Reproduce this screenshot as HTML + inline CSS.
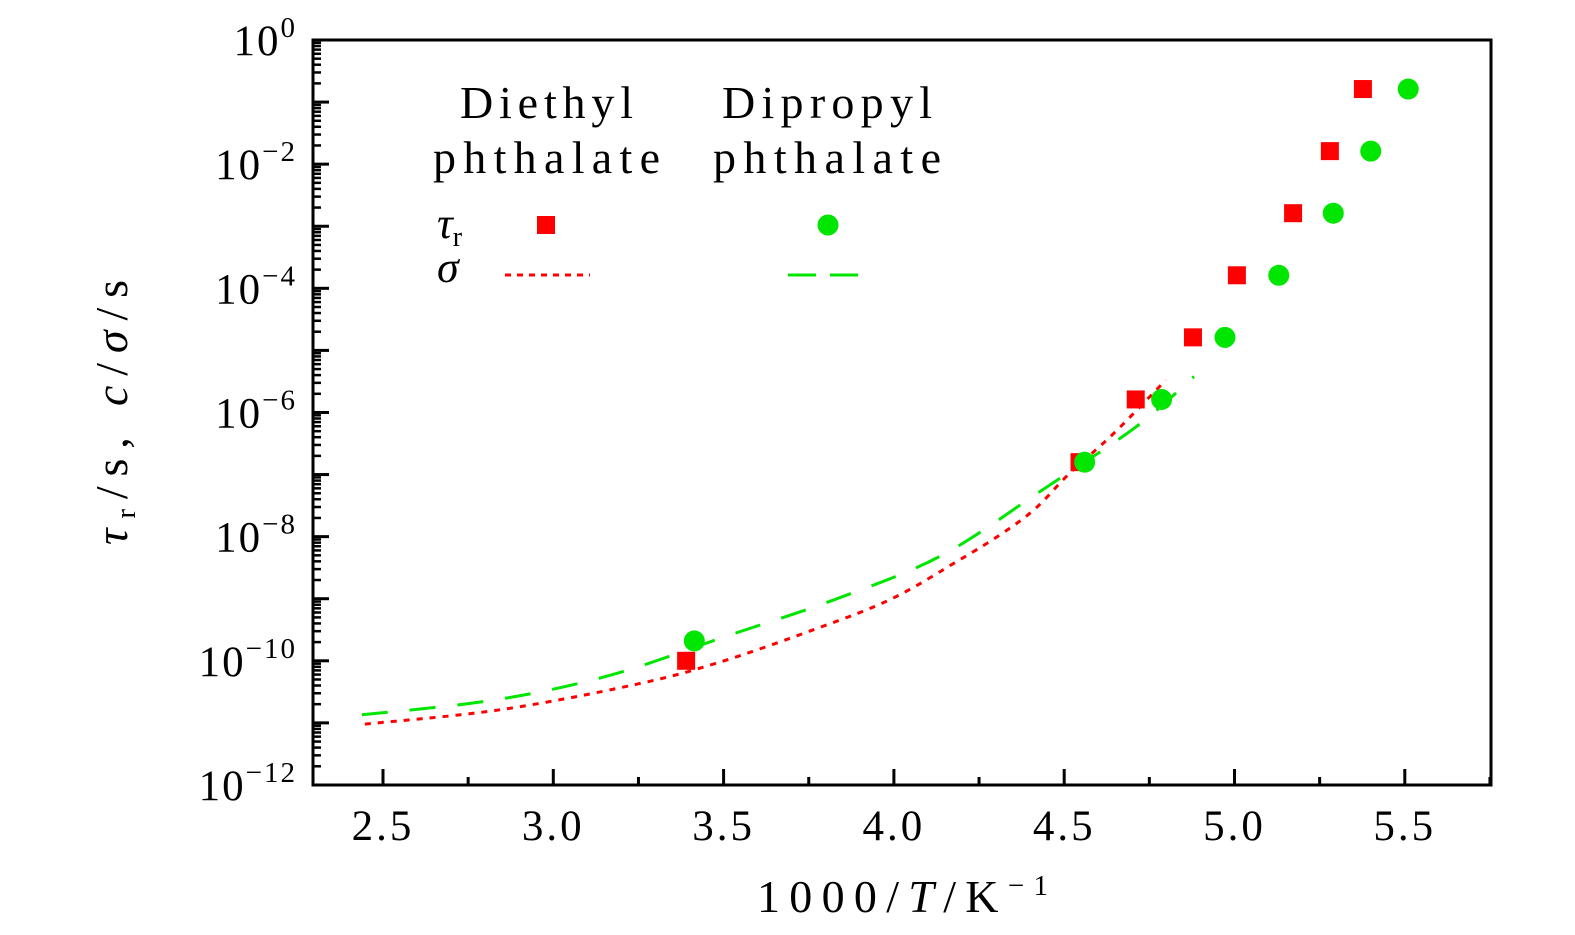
<!DOCTYPE html>
<html><head><meta charset="utf-8"><style>
body{margin:0;background:#fff;}
svg{display:block;font-family:"Liberation Serif","DejaVu Serif",serif;}
</style></head><body>
<svg id="chart" width="1575" height="935" viewBox="0 0 1575 935">
<rect x="313" y="40" width="1178" height="745" fill="none" stroke="#000" stroke-width="3"/>
<g id="axes"></g>
<g id="series"></g>
<g font-size="46" fill="#000">
<text x="460" y="118" textLength="173" lengthAdjust="spacing">Diethyl</text>
<text x="433" y="173" textLength="227" lengthAdjust="spacing">phthalate</text>
<text x="722" y="118" textLength="210" lengthAdjust="spacing">Dipropyl</text>
<text x="713" y="173" textLength="228" lengthAdjust="spacing">phthalate</text>
<text x="437" y="238" font-style="italic" font-size="44">τ<tspan font-style="normal" font-size="28" dy="8">r</tspan></text>
<text x="437" y="282" font-style="italic" font-size="44">σ</text>
<rect x="537" y="216" width="18" height="18" fill="#f00"/>
<circle cx="828" cy="225" r="10.5" fill="#00e600"/>
<line x1="505" y1="275" x2="590" y2="275" stroke="#f00" stroke-width="3" stroke-dasharray="6,6"/>
<line x1="788" y1="275" x2="870" y2="275" stroke="#00e600" stroke-width="3" stroke-dasharray="28,14"/>
</g>
<text x="757" y="912" textLength="291" lengthAdjust="spacing" font-size="46">1000/<tspan font-style="italic">T</tspan>/K<tspan font-size="29" dy="-17">−1</tspan></text>
<text transform="translate(127,545) rotate(-90)" textLength="265" lengthAdjust="spacing" font-size="46"><tspan font-style="italic">τ</tspan><tspan font-size="29" dy="8">r</tspan><tspan dy="-8">/s, </tspan><tspan font-style="italic">c</tspan>/<tspan font-style="italic">σ</tspan>/s</text>
</svg>
<script>
const xTicks=[2.5,3.0,3.5,4.0,4.5,5.0,5.5];
const yDecades=[0,-2,-4,-6,-8,-10,-12];
const redX=[3.39,4.545,4.71,4.878,5.007,5.172,5.28,5.377];
const redLogY=[-10,-6.8,-5.79,-4.79,-3.79,-2.79,-1.79,-0.79];
const greenX=[3.414,4.56,4.786,4.972,5.13,5.29,5.40,5.51];
const greenLogY=[-9.68,-6.8,-5.79,-4.79,-3.79,-2.79,-1.79,-0.79];
const redCurveX=[2.447,2.843,3.234,3.478,3.769,3.994,4.191,4.32,4.417,4.514,4.643,4.798];
const redCurveY=[-11.02,-10.79,-10.39,-10.04,-9.49,-9.0,-8.38,-7.94,-7.54,-6.99,-6.35,-5.48];
const greenCurveX=[2.438,2.829,3.169,3.51,3.833,4.141,4.435,4.711,4.881];
const greenCurveY=[-10.87,-10.63,-10.23,-9.6,-9.0,-8.3,-7.25,-6.23,-5.42];

const NS='http://www.w3.org/2000/svg';
const sx=v=>383+(v-2.5)*340.6;
const sy=l=>40+(0-l)*62.08;
function mk(tag,attrs,parent){const e=document.createElementNS(NS,tag);for(const k in attrs)e.setAttribute(k,attrs[k]);parent.appendChild(e);return e;}
const axes=document.getElementById('axes'),ser=document.getElementById('series');
xTicks.forEach(t=>{
 const l=mk('line',{x1:sx(t),x2:sx(t),y1:785,y2:769,stroke:'#000','stroke-width':3},axes);
 
 
 const m=mk('line',{x1:sx(t+0.25),x2:sx(t+0.25),y1:785,y2:777,stroke:'#000','stroke-width':3},axes);
 
 
 const tx=mk('text',{x:sx(t),y:840,'text-anchor':'middle','font-size':43,'letter-spacing':3},axes);
 tx.textContent=t.toFixed(1);
 
 
});
for(let d=0;d>-12;d--){
 const l=mk('line',{x1:313,x2:329,y1:sy(d),y2:sy(d),stroke:'#000','stroke-width':3},axes);
 
 
 for(let k=2;k<=9;k++){
  const y=sy(d-1+Math.log10(k));
  const m=mk('line',{x1:313,x2:321,y1:y,y2:y,stroke:'#000','stroke-width':2.5},axes);
  
  
 }
}
yDecades.forEach(d=>{
 const tx=mk('text',{x:297,y:sy(d)+15,'text-anchor':'end','font-size':43,'letter-spacing':2},axes);
 tx.innerHTML='10<tspan font-size="29" dy="-18">'+(d===0?'0':'−'+(-d))+'</tspan>';
 
 
});
function curve(xs,ys,color,dash,name){
 const P=xs.map((x,i)=>[sx(x),sy(ys[i])]);
 let d='M'+P[0][0].toFixed(1)+','+P[0][1].toFixed(1);
 for(let i=0;i<P.length-1;i++){
  const p0=P[Math.max(0,i-1)],p1=P[i],p2=P[i+1],p3=P[Math.min(P.length-1,i+2)];
  const c1=[p1[0]+(p2[0]-p0[0])/6,p1[1]+(p2[1]-p0[1])/6];
  const c2=[p2[0]-(p3[0]-p1[0])/6,p2[1]-(p3[1]-p1[1])/6];
  d+=' C'+c1.map(v=>v.toFixed(1))+' '+c2.map(v=>v.toFixed(1))+' '+p2.map(v=>v.toFixed(1));
 }
 const p=mk('path',{d:d,fill:'none',stroke:color,'stroke-width':3,'stroke-dasharray':dash},ser);
 
 
}
curve(redCurveX,redCurveY,'#f00','6,7','sigma-curve-diethyl');
curve(greenCurveX,greenCurveY,'#00e600','26,22','sigma-curve-dipropyl');
redX.forEach((x,i)=>{
 const r=mk('rect',{x:sx(x)-9,y:sy(redLogY[i])-9,width:18,height:18,fill:'#f00'},ser);
 
 
});
greenX.forEach((x,i)=>{
 const c=mk('circle',{cx:sx(x),cy:sy(greenLogY[i]),r:10.5,fill:'#00e600'},ser);
 
 
});
</script>
</body></html>
